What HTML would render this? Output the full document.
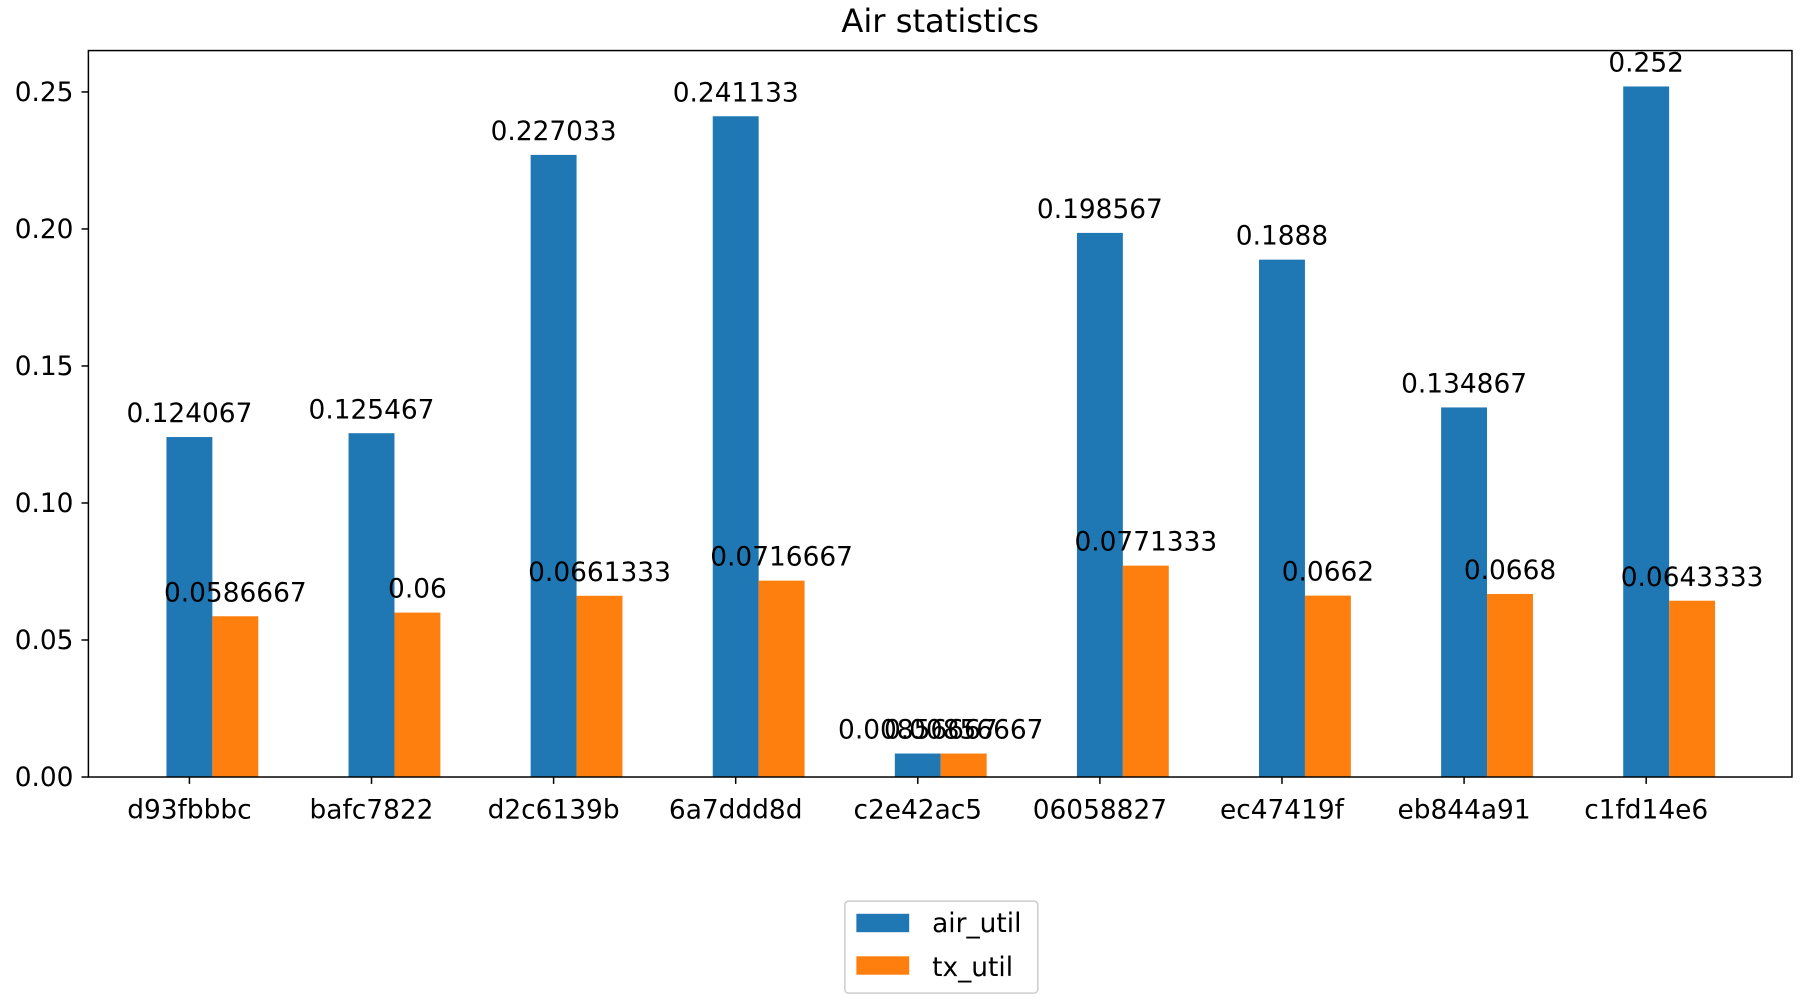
<!DOCTYPE html>
<html><head><meta charset="utf-8"><style>
html,body{margin:0;padding:0;background:#fff;}
svg{display:block;font-family:"DejaVu Sans","Liberation Sans",sans-serif;}
</style></head><body>
<svg id="chart" width="1800" height="1000" viewBox="0 0 1568 870" preserveAspectRatio="none" xmlns="http://www.w3.org/2000/svg">
<text x="819" y="28" text-anchor="middle" font-size="28">Air statistics</text>
<g id="plot"></g>
<rect x="77" y="44" width="1484" height="632" fill="none" stroke="#000" stroke-width="1.3"/>
<g>
<rect x="736" y="784" width="168" height="80" fill="#fff" stroke="#ccc" stroke-width="1.3" rx="3"/>
<rect x="746" y="795" width="46" height="16" fill="#1f77b4"/>
<text x="812" y="811" font-size="23">air_util</text>
<rect x="746" y="832" width="46" height="16" fill="#ff7f0e"/>
<text x="812" y="849" font-size="23">tx_util</text>
</g>
</svg>
<script>
const categories = ["d93fbbbc","bafc7822","d2c6139b","6a7ddd8d","c2e42ac5","06058827","ec47419f","eb844a91","c1fd14e6"];
const airUtil = [0.124067,0.125467,0.227033,0.241133,0.00856667,0.198567,0.1888,0.134867,0.252];
const txUtil = [0.0586667,0.06,0.0661333,0.0716667,0.00856667,0.0771333,0.0662,0.0668,0.0643333];
const airLabels = ["0.124067","0.125467","0.227033","0.241133","0.00856667","0.198567","0.1888","0.134867","0.252"];
const txLabels = ["0.0586667","0.06","0.0661333","0.0716667","0.00856667","0.0771333","0.0662","0.0668","0.0643333"];
const yTicks = [0,0.05,0.10,0.15,0.20,0.25];
const yTickLabels = ["0.00","0.05","0.10","0.15","0.20","0.25"];

const NS="http://www.w3.org/2000/svg";
const g=document.getElementById('plot');
const y0=676, yPerUnit=(676-80)/0.25;
function yScale(v){return y0 - v*yPerUnit;}
function xCenter(i){return 185 + i*(1454-185)/(categories.length-1);}
const barW=40;
const FS=23;
function mk(tag,attrs){const e=document.createElementNS(NS,tag);for(const k in attrs)e.setAttribute(k,attrs[k]);g.appendChild(e);return e;}

yTicks.forEach((t,i)=>{
  const y=yScale(t);
  const l=mk('line',{x1:71,x2:77,y1:y,y2:y,stroke:'#000','stroke-width':1.3});
  
  
  const tx=mk('text',{x:64,y:y+8,'text-anchor':'end','font-size':FS});
  
  
  tx.textContent=yTickLabels[i];
});

categories.forEach((c,i)=>{
  const cx=xCenter(i);
  const ya=yScale(airUtil[i]);
  const b1=mk('rect',{x:cx-barW,y:ya,width:barW,height:y0-ya,fill:'#1f77b4'});
  
  
  const yt=yScale(txUtil[i]);
  const b2=mk('rect',{x:cx,y:yt,width:barW,height:y0-yt,fill:'#ff7f0e'});
  
  
  const l1=mk('text',{x:cx-barW/2,y:ya-13,'text-anchor':'middle','font-size':FS});
  
  
  l1.textContent=airLabels[i];
  const l2=mk('text',{x:cx+barW/2,y:yt-13,'text-anchor':'middle','font-size':FS});
  
  
  l2.textContent=txLabels[i];
  const tkx=cx-barW/2;
  const tk=mk('line',{x1:tkx,x2:tkx,y1:676,y2:682,stroke:'#000','stroke-width':1.3});
  
  
  const xl=mk('text',{x:tkx,y:712,'text-anchor':'middle','font-size':FS});
  
  
  xl.textContent=c;
});
</script>
</body></html>
